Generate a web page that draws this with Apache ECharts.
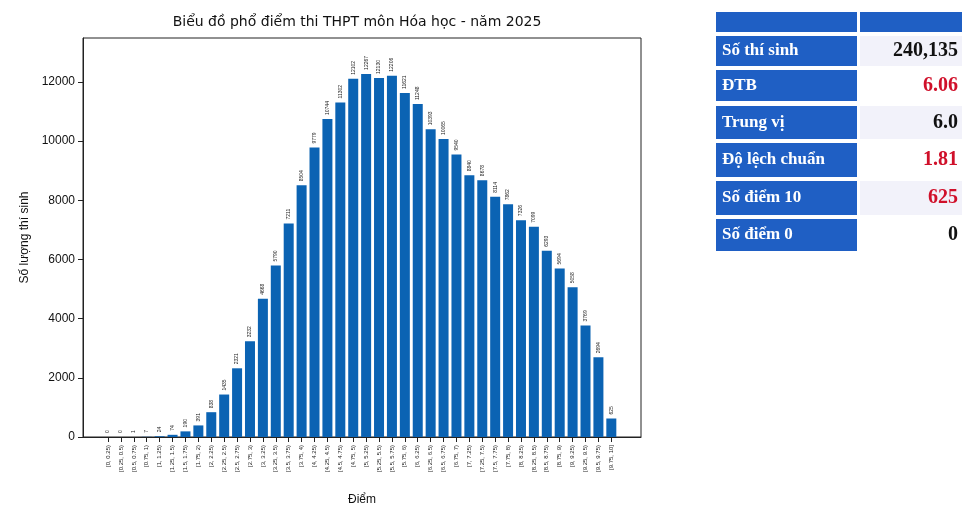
<!DOCTYPE html><html><head><meta charset="utf-8"><script src="https://cdn.jsdelivr.net/npm/echarts@6/dist/echarts.min.js"></script></head><body style="margin:0;background:#fff"><div id="c" style="width:971px;height:511px"></div><script>
const categories=["[0, 0.25)","[0.25, 0.5)","[0.5, 0.75)","[0.75, 1)","[1, 1.25)","[1.25, 1.5)","[1.5, 1.75)","[1.75, 2)","[2, 2.25)","[2.25, 2.5)","[2.5, 2.75)","[2.75, 3)","[3, 3.25)","[3.25, 3.5)","[3.5, 3.75)","[3.75, 4)","[4, 4.25)","[4.25, 4.5)","[4.5, 4.75)","[4.75, 5)","[5, 5.25)","[5.25, 5.5)","[5.5, 5.75)","[5.75, 6)","[6, 6.25)","[6.25, 6.5)","[6.5, 6.75)","[6.75, 7)","[7, 7.25)","[7.25, 7.5)","[7.5, 7.75)","[7.75, 8)","[8, 8.25)","[8.25, 8.5)","[8.5, 8.75)","[8.75, 9)","[9, 9.25)","[9.25, 9.5)","[9.5, 9.75)","[9.75, 10]"];
const counts=[0,0,1,7,24,74,190,391,838,1435,2321,3232,4668,5790,7211,8504,9779,10744,11302,12102,12267,12130,12206,11621,11248,10393,10065,9540,8840,8678,8114,7862,7326,7099,6293,5694,5058,3769,2694,625];
const yTicks=[0,2000,4000,6000,8000,10000,12000];
const tableLabels=["Số thí sinh","ĐTB","Trung vị","Độ lệch chuẩn","Số điểm 10","Số điểm 0"];
const tableValues=["240,135","6.06","6.0","1.81","625","0"];
const valueColors=["#111","#d0102a","#111","#d0102a","#d0102a","#111"];
const ch=echarts.init(document.getElementById('c'));
const rows=[[36,66],[70,101],[106,139],[143,177],[181,215],[219,251]];
const g=[{type:'rect',shape:{x:716,y:12,width:141,height:20},style:{fill:'#1f5fc4'}},{type:'rect',shape:{x:860,y:12,width:102,height:20},style:{fill:'#1f5fc4'}}];
rows.forEach((r,i)=>{g.push({type:'rect',shape:{x:716,y:r[0],width:141,height:r[1]-r[0]},style:{fill:'#1f5fc4'}});
g.push({type:'rect',shape:{x:860,y:r[0],width:102,height:r[1]-r[0]},style:{fill:i%2==0?'#f2f2fa':'#ffffff'}});
g.push({type:'text',x:722,y:(r[0]+r[1])/2,style:{text:tableLabels[i],fill:'#fff',font:'bold 17px "Liberation Serif"',verticalAlign:'middle'}});
g.push({type:'text',x:958,y:(r[0]+r[1])/2,style:{text:tableValues[i],fill:valueColors[i],font:'bold 20px "Liberation Serif"',align:'right',verticalAlign:'middle'}});});
ch.setOption({animation:false,
title:{text:'Biểu đồ phổ điểm thi THPT môn Hóa học - năm 2025',left:352,top:10,textAlign:'center',textStyle:{fontSize:14,fontWeight:'normal',color:'#111',fontFamily:'DejaVu Sans'}},
grid:{left:83,right:330,top:38,bottom:74},
xAxis:{type:'value',min:-1.94,max:41.3,interval:1,axisLine:{show:true,onZero:false,lineStyle:{color:'#222'}},splitLine:{show:false},axisTick:{show:true,customValues:counts.map((_,i)=>i),lineStyle:{color:'#222'}},
axisLabel:{customValues:counts.map((_,i)=>i),formatter:v=>categories[v]??'',rotate:90,fontSize:6,color:'#222',showMinLabel:true,showMaxLabel:true},
name:'Điểm',nameLocation:'middle',nameGap:57,nameTextStyle:{fontSize:12,color:'#111'}},
yAxis:{type:'value',min:0,max:13480,axisLine:{show:true,onZero:false,lineStyle:{color:'#222'}},splitLine:{show:false},axisTick:{show:true,customValues:yTicks,lineStyle:{color:'#222'}},
axisLabel:{customValues:yTicks,formatter:v=>String(v),fontSize:12,color:'#111'},name:'Số lượng thí sinh',nameLocation:'middle',nameGap:52,nameTextStyle:{fontSize:12,color:'#111'}},
graphic:g.concat([{type:'rect',shape:{x:83,y:38,width:558,height:399},style:{fill:'none',stroke:'#222',lineWidth:1}}]),
series:[{type:'bar',data:counts.map((v,i)=>[i,v]),barWidth:10,itemStyle:{color:'#0b63b3'},label:{show:true,position:'top',rotate:90,align:'left',verticalAlign:'middle',distance:4,fontSize:5,color:'#222'}}]});
</script></body></html>
